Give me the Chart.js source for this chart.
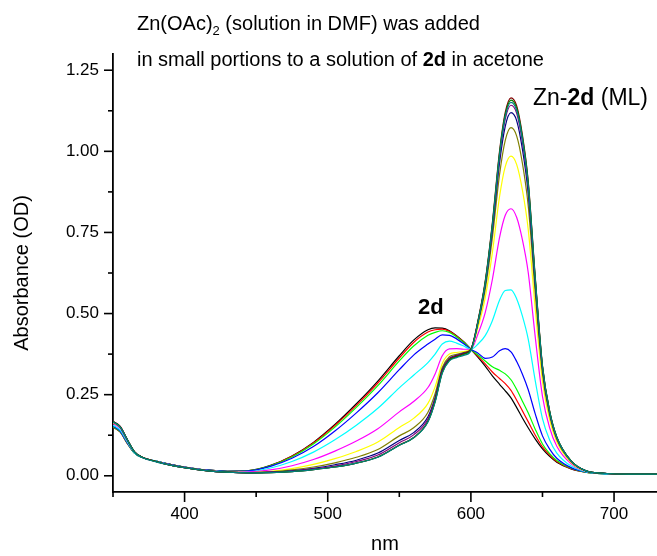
<!DOCTYPE html>
<html>
<head>
<meta charset="utf-8">
<script src="https://cdn.jsdelivr.net/npm/chart.js@4.4.1/dist/chart.umd.min.js"></script>
<style>
  html, body { margin: 0; padding: 0; background: #fff; }
  #wrap { position: relative; width: 657px; height: 556px; }
</style>
</head>
<body>
<div id="wrap"><canvas id="chart" width="657" height="556"></canvas></div>
<script>
// wavelength grid (nm), shared by every spectrum
const wavelengths = [350, 355, 360, 365, 370, 380, 390, 400, 415, 430,
  445, 460, 475, 490, 505, 520, 535, 550, 560, 570,
  575, 580, 585, 590, 595, 600, 605, 610, 615, 620,
  624, 628, 632, 636, 640, 645, 650, 655, 660, 670,
  680, 695, 710, 730];

// titration spectra, first (free 2d) to last (Zn-2d)
const specBlack = [0.150, 0.135, 0.100, 0.070, 0.057, 0.045, 0.035, 0.027, 0.018, 0.014,
  0.016, 0.032, 0.061, 0.103, 0.158, 0.222, 0.292, 0.370, 0.418, 0.450,
  0.456, 0.455, 0.447, 0.432, 0.413, 0.390, 0.365, 0.338, 0.308, 0.282,
  0.262, 0.240, 0.210, 0.178, 0.148, 0.113, 0.083, 0.060, 0.042, 0.021,
  0.011, 0.006, 0.004, 0.004];
const specRed = [0.150, 0.135, 0.100, 0.070, 0.057, 0.045, 0.035, 0.027, 0.018, 0.014,
  0.016, 0.031, 0.060, 0.101, 0.155, 0.217, 0.286, 0.363, 0.411, 0.443,
  0.450, 0.452, 0.445, 0.430, 0.412, 0.390, 0.368, 0.345, 0.320, 0.300,
  0.284, 0.263, 0.233, 0.200, 0.167, 0.125, 0.089, 0.064, 0.044, 0.022,
  0.011, 0.006, 0.004, 0.004];
const specGreen = [0.151, 0.136, 0.101, 0.070, 0.057, 0.045, 0.035, 0.027, 0.018, 0.014,
  0.016, 0.031, 0.058, 0.098, 0.150, 0.211, 0.278, 0.354, 0.400, 0.433,
  0.442, 0.447, 0.442, 0.428, 0.411, 0.390, 0.372, 0.354, 0.336, 0.325,
  0.314, 0.296, 0.266, 0.230, 0.194, 0.143, 0.098, 0.068, 0.047, 0.023,
  0.011, 0.006, 0.004, 0.004];
const specBlue = [0.153, 0.138, 0.102, 0.071, 0.057, 0.045, 0.035, 0.027, 0.018, 0.014,
  0.015, 0.029, 0.054, 0.090, 0.138, 0.194, 0.256, 0.327, 0.372, 0.406,
  0.421, 0.434, 0.433, 0.422, 0.407, 0.390, 0.378, 0.362, 0.366, 0.385,
  0.392, 0.382, 0.352, 0.313, 0.266, 0.190, 0.123, 0.082, 0.054, 0.025,
  0.012, 0.006, 0.004, 0.004];
const specCyan = [0.156, 0.141, 0.104, 0.071, 0.057, 0.045, 0.034, 0.026, 0.017, 0.013,
  0.013, 0.024, 0.044, 0.073, 0.111, 0.156, 0.208, 0.271, 0.310, 0.349,
  0.375, 0.406, 0.415, 0.409, 0.400, 0.390, 0.406, 0.432, 0.478, 0.541,
  0.571, 0.573, 0.545, 0.492, 0.422, 0.292, 0.176, 0.110, 0.070, 0.030,
  0.013, 0.006, 0.004, 0.004];
const specMagenta = [0.161, 0.146, 0.108, 0.073, 0.058, 0.044, 0.034, 0.026, 0.017, 0.012,
  0.012, 0.018, 0.031, 0.050, 0.076, 0.107, 0.145, 0.197, 0.229, 0.272,
  0.314, 0.370, 0.391, 0.392, 0.390, 0.390, 0.438, 0.503, 0.605, 0.734,
  0.803, 0.823, 0.796, 0.727, 0.628, 0.426, 0.245, 0.148, 0.091, 0.037,
  0.014, 0.007, 0.005, 0.005];
const specYellow = [0.164, 0.149, 0.110, 0.073, 0.058, 0.044, 0.033, 0.025, 0.016, 0.012,
  0.010, 0.014, 0.022, 0.035, 0.053, 0.075, 0.104, 0.149, 0.177, 0.223,
  0.274, 0.346, 0.375, 0.380, 0.383, 0.390, 0.458, 0.549, 0.688, 0.860,
  0.953, 0.985, 0.959, 0.880, 0.761, 0.513, 0.290, 0.173, 0.105, 0.041,
  0.015, 0.007, 0.005, 0.005];
const specDarkYellow = [0.166, 0.150, 0.111, 0.074, 0.058, 0.044, 0.033, 0.025, 0.016, 0.011,
  0.010, 0.012, 0.018, 0.027, 0.040, 0.057, 0.081, 0.123, 0.148, 0.196,
  0.253, 0.334, 0.367, 0.374, 0.380, 0.390, 0.469, 0.574, 0.733, 0.928,
  1.034, 1.073, 1.047, 0.963, 0.834, 0.560, 0.314, 0.186, 0.112, 0.044,
  0.016, 0.007, 0.005, 0.005];
const specNavy = [0.167, 0.151, 0.111, 0.074, 0.058, 0.044, 0.033, 0.025, 0.016, 0.011,
  0.009, 0.011, 0.015, 0.023, 0.034, 0.048, 0.070, 0.109, 0.133, 0.182,
  0.241, 0.327, 0.362, 0.371, 0.378, 0.390, 0.474, 0.587, 0.756, 0.964,
  1.077, 1.119, 1.094, 1.006, 0.872, 0.585, 0.327, 0.193, 0.116, 0.045,
  0.016, 0.007, 0.005, 0.005];
const specPurple = [0.168, 0.152, 0.112, 0.074, 0.058, 0.044, 0.033, 0.025, 0.016, 0.011,
  0.009, 0.011, 0.014, 0.021, 0.030, 0.044, 0.064, 0.102, 0.126, 0.175,
  0.236, 0.323, 0.360, 0.370, 0.377, 0.390, 0.477, 0.594, 0.768, 0.982,
  1.099, 1.142, 1.117, 1.028, 0.891, 0.598, 0.334, 0.197, 0.118, 0.045,
  0.016, 0.007, 0.005, 0.005];
const specWine = [0.168, 0.152, 0.112, 0.074, 0.058, 0.044, 0.033, 0.025, 0.016, 0.011,
  0.009, 0.010, 0.013, 0.019, 0.027, 0.039, 0.058, 0.095, 0.118, 0.168,
  0.230, 0.320, 0.358, 0.368, 0.376, 0.390, 0.480, 0.600, 0.780, 1.000,
  1.120, 1.165, 1.140, 1.050, 0.910, 0.610, 0.340, 0.200, 0.120, 0.046,
  0.016, 0.007, 0.005, 0.005];
const specOlive = [0.167, 0.151, 0.111, 0.074, 0.058, 0.044, 0.033, 0.025, 0.016, 0.011,
  0.009, 0.010, 0.013, 0.019, 0.027, 0.039, 0.058, 0.094, 0.117, 0.167,
  0.229, 0.318, 0.356, 0.366, 0.374, 0.388, 0.477, 0.596, 0.775, 0.994,
  1.113, 1.158, 1.133, 1.044, 0.905, 0.606, 0.338, 0.199, 0.119, 0.046,
  0.016, 0.007, 0.005, 0.005];
const specDarkCyan = [0.166, 0.150, 0.111, 0.073, 0.057, 0.043, 0.033, 0.025, 0.016, 0.011,
  0.009, 0.010, 0.013, 0.019, 0.027, 0.039, 0.057, 0.094, 0.117, 0.166,
  0.227, 0.316, 0.354, 0.364, 0.371, 0.385, 0.474, 0.593, 0.771, 0.988,
  1.107, 1.151, 1.126, 1.037, 0.899, 0.603, 0.336, 0.198, 0.119, 0.045,
  0.016, 0.007, 0.005, 0.005];

const spectra = [specBlack, specRed, specGreen, specBlue, specCyan, specMagenta, specYellow,
  specDarkYellow, specNavy, specPurple, specWine, specOlive, specDarkCyan];

// tick values and labels
const xMajorTicks = [400, 500, 600, 700];
const xTickLabels = ['400', '500', '600', '700'];
const xMinorTicks = [350, 450, 550, 650];
const yMajorTicks = [0, 0.25, 0.5, 0.75, 1.0, 1.25];
const yTickLabels = ['0.00', '0.25', '0.50', '0.75', '1.00', '1.25'];
const yMinorTicks = [0.125, 0.375, 0.625, 0.875, 1.125];

// Origin-style colour cycle
const lineColors = ['#000000', '#ff0000', '#00ff00', '#0000ff', '#00ffff', '#ff00ff', '#ffff00',
  '#808000', '#000080', '#800080', '#800000', '#008000', '#008080'];

const FONT = '"Liberation Sans", Arial, sans-serif';

const datasets = spectra.map((s, i) => ({
  data: s.map((v, k) => ({ x: wavelengths[k], y: v })),
  borderColor: lineColors[i],
  borderWidth: 1.2,
  pointRadius: 0,
  cubicInterpolationMode: 'monotone',
  fill: false,
  order: -i
}));

const decorations = {
  id: 'decorations',
  afterDraw(chart) {
    const { ctx, scales: { x, y } } = chart;
    ctx.save();
    ctx.strokeStyle = '#000';
    ctx.lineWidth = 1.6;
    const seg = (x1, y1, x2, y2) => {
      ctx.beginPath(); ctx.moveTo(x1, y1); ctx.lineTo(x2, y2); ctx.stroke();
    };
    xMajorTicks.forEach(v => { const p = x.getPixelForValue(v); seg(p, x.top, p, x.top + 10); });
    xMinorTicks.forEach(v => { const p = x.getPixelForValue(v); seg(p, x.top, p, x.top + 5); });
    yMajorTicks.forEach(v => { const p = y.getPixelForValue(v); seg(y.right, p, y.right - 9, p); });
    yMinorTicks.forEach(v => { const p = y.getPixelForValue(v); seg(y.right, p, y.right - 5, p); });

    ctx.fillStyle = '#000';
    ctx.textBaseline = 'alphabetic';
    ctx.textAlign = 'left';

    // note above the plot
    let cx = 137;
    ctx.font = '20px ' + FONT;
    ctx.fillText('Zn(OAc)', cx, 30);
    cx += ctx.measureText('Zn(OAc)').width;
    ctx.font = '13px ' + FONT;
    ctx.fillText('2', cx, 35);
    cx += ctx.measureText('2').width;
    ctx.font = '20px ' + FONT;
    ctx.fillText(' (solution in DMF) was added', cx, 30);

    const parts = [['in small portions to a solution of ', false], ['2d', true], [' in acetone', false]];
    cx = 137;
    parts.forEach(([t, b]) => {
      ctx.font = (b ? 'bold ' : '') + '20px ' + FONT;
      ctx.fillText(t, cx, 66);
      cx += ctx.measureText(t).width;
    });

    // band labels anchored in data space
    ctx.font = 'bold 22px ' + FONT;
    ctx.textAlign = 'center';
    ctx.textBaseline = 'middle';
    ctx.fillText('2d', x.getPixelForValue(572), y.getPixelForValue(0.518));

    const mlParts = [['Zn-', false], ['2d', true], [' (ML)', false]];
    cx = x.getPixelForValue(643.4);
    const cy = y.getPixelForValue(1.162);
    ctx.textAlign = 'left';
    mlParts.forEach(([t, b]) => {
      ctx.font = (b ? 'bold ' : '') + '23px ' + FONT;
      ctx.fillText(t, cx, cy);
      cx += ctx.measureText(t).width;
    });
    ctx.restore();
  }
};

new Chart(document.getElementById('chart'), {
  type: 'line',
  data: { datasets },
  options: {
    responsive: false,
    animation: false,
    events: [],
    layout: { padding: { left: 0, top: 54, right: 0, bottom: 0 } },
    plugins: { legend: { display: false }, tooltip: { enabled: false } },
    scales: {
      x: {
        type: 'linear',
        min: 350,
        max: 730,
        afterBuildTicks: s => { s.ticks = xMajorTicks.map(v => ({ value: v })); },
        afterFit: s => { s.height = 64; },
        grid: { display: true, drawOnChartArea: false, drawTicks: false },
        border: { display: true, color: '#000', width: 1.8 },
        ticks: {
          color: '#000', padding: 12, maxRotation: 0, autoSkip: false,
          font: { family: FONT, size: 17 },
          callback: (v, i) => xTickLabels[i]
        },
        title: {
          display: true, text: 'nm', color: '#000',
          font: { family: FONT, size: 20 }, padding: { top: 0, bottom: 0 }
        }
      },
      y: {
        type: 'linear',
        min: -0.05,
        max: 1.30,
        afterBuildTicks: s => { s.ticks = yMajorTicks.map(v => ({ value: v })); },
        afterFit: s => { s.width = 113; },
        grid: { display: true, drawOnChartArea: false, drawTicks: false },
        border: { display: true, color: '#000', width: 1.8 },
        ticks: {
          color: '#000', padding: 14, autoSkip: false,
          font: { family: FONT, size: 17 },
          callback: (v, i) => yTickLabels[i]
        },
        title: {
          display: true, text: 'Absorbance (OD)', color: '#000',
          font: { family: FONT, size: 20 }, padding: { top: 10, bottom: 0 }
        }
      }
    }
  },
  plugins: [decorations]
});
</script>
</body>
</html>
